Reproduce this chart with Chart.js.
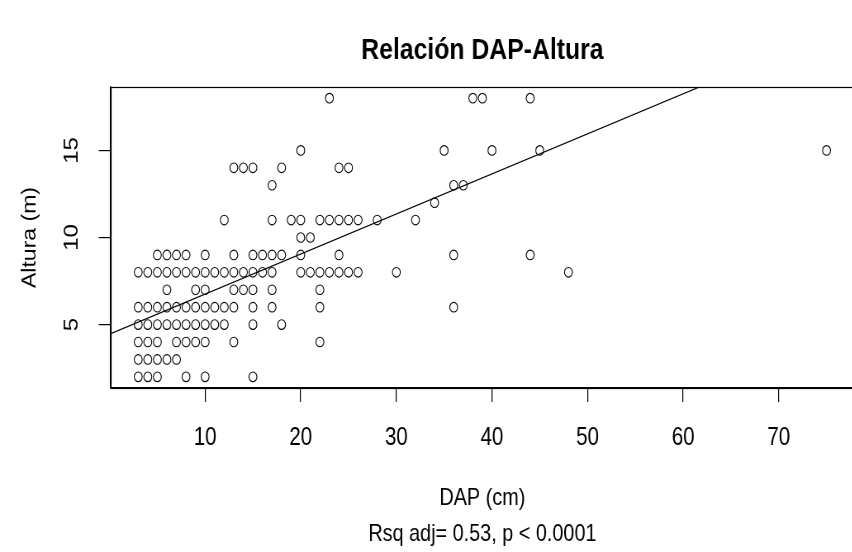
<!DOCTYPE html>
<html>
<head>
<meta charset="utf-8">
<script src="https://cdn.jsdelivr.net/npm/chart.js@4/dist/chart.umd.min.js"></script>
<style>
  html, body { margin: 0; padding: 0; background: #ffffff; overflow: hidden; width: 852px; height: 552px; }
  #wrap { width: 1040px; height: 552px; transform: scaleX(0.826); transform-origin: 0 0; }
</style>
</head>
<body>
<div id="wrap"><canvas id="c" width="1040" height="552"></canvas></div>
<script>
// ---- Data (DAP in cm, Altura in m) ----
const dapValues = [
  3,4,5,8,10,15,
  3,4,5,6,7,
  3,4,5,7,8,9,10,13,22,
  3,4,5,6,7,8,9,10,11,12,15,18,
  3,4,5,6,7,8,9,10,11,12,13,15,17,22,36,
  6,9,10,13,14,15,17,22,
  3,4,5,6,7,8,9,10,11,12,13,14,15,16,17,20,21,22,23,24,25,26,30,48,
  5,6,7,8,10,13,15,16,17,18,20,24,36,44,
  20,21,
  12,17,19,20,22,23,24,25,26,28,32,
  34,
  17,36,37,
  13,14,15,18,24,25,
  20,35,40,45,75,
  23,38,39,44
];
const alturaValues = [
  2,2,2,2,2,2,
  3,3,3,3,3,
  4,4,4,4,4,4,4,4,4,
  5,5,5,5,5,5,5,5,5,5,5,5,
  6,6,6,6,6,6,6,6,6,6,6,6,6,6,6,
  7,7,7,7,7,7,7,7,
  8,8,8,8,8,8,8,8,8,8,8,8,8,8,8,8,8,8,8,8,8,8,8,8,
  9,9,9,9,9,9,9,9,9,9,9,9,9,9,
  10,10,
  11,11,11,11,11,11,11,11,11,11,11,
  12,
  13,13,13,
  14,14,14,14,14,14,
  15,15,15,15,15,
  18,18,18,18
];
const xTickValues = [10, 20, 30, 40, 50, 60, 70];
const yTickValues = [5, 10, 15];
const xLimits = [0.12, 77.88];
const yLimits = [1.36, 18.64];
const fitIntercept = 4.45;
const fitSlope = 0.23;

const titleText = 'Relación DAP-Altura';
const xTitle = ['DAP (cm)', 'Rsq adj= 0.53, p < 0.0001'];
const yTitle = 'Altura (m)';

// ---- Build chart ----
const FONT = "'Liberation Sans', Arial, Helvetica, sans-serif";
const points = dapValues.map((x, i) => ({ x: x, y: alturaValues[i] }));
const fitLine = xLimits.map(x => ({ x: x, y: fitIntercept + fitSlope * x }));

const boxPlugin = {
  id: 'box',
  afterDatasetsDraw(chart) {
    const a = chart.chartArea, ctx = chart.ctx;
    ctx.save();
    ctx.strokeStyle = '#000';
    ctx.lineWidth = 1.2;
    ctx.strokeRect(Math.round(a.left) + 0.5, Math.round(a.top) + 0.5,
                   Math.round(a.right - a.left), Math.round(a.bottom - a.top));
    ctx.restore();
  }
};

new Chart(document.getElementById('c'), {
  type: 'scatter',
  data: {
    datasets: [
      {
        data: points,
        pointStyle: 'circle',
        pointRadius: 4.8,
        pointBorderWidth: 1.1,
        borderColor: '#000',
        pointBorderColor: '#000',
        backgroundColor: 'rgba(0,0,0,0)',
        pointBackgroundColor: 'rgba(0,0,0,0)',
        showLine: false
      },
      {
        type: 'line',
        data: fitLine,
        borderColor: '#000',
        borderWidth: 1.2,
        pointRadius: 0,
        fill: false,
        tension: 0
      }
    ]
  },
  options: {
    responsive: false,
    animation: false,
    devicePixelRatio: 1,
    events: [],
    layout: { padding: { left: 0, right: 6, top: 0, bottom: 0 } },
    plugins: {
      legend: { display: false },
      tooltip: { enabled: false },
      title: {
        display: true,
        text: titleText,
        color: '#000',
        fullSize: false,
        font: { family: FONT, size: 30, weight: 'bold', lineHeight: 1.2 },
        padding: { top: 33, bottom: 18 }
      }
    },
    scales: {
      x: {
        type: 'linear',
        position: 'bottom',
        min: xLimits[0],
        max: xLimits[1],
        afterBuildTicks: s => { s.ticks = xTickValues.map(v => ({ value: v })); },
        afterFit: s => { s.height = 164; },
        grid: { drawOnChartArea: false, drawTicks: true, tickLength: 14, color: '#000', lineWidth: 1.2 },
        border: { display: true, color: '#000', width: 1.2 },
        ticks: {
          color: '#000', autoSkip: false, maxRotation: 0, minRotation: 0, padding: 21,
          font: { family: FONT, size: 25, lineHeight: 1.2 },
          callback: v => String(v)
        },
        title: {
          display: true, text: xTitle, color: '#000',
          font: { family: FONT, size: 24, lineHeight: 1.5 },
          padding: { top: 0, bottom: 0 }
        }
      },
      y: {
        type: 'linear',
        position: 'left',
        min: yLimits[0],
        max: yLimits[1],
        afterBuildTicks: s => { s.ticks = yTickValues.map(v => ({ value: v })); },
        afterFit: s => { s.width = 134; },
        grid: { drawOnChartArea: false, drawTicks: true, tickLength: 14.5, color: '#000', lineWidth: 1.2 },
        border: { display: true, color: '#000', width: 1.2 },
        ticks: {
          color: '#000', autoSkip: false, minRotation: 90, maxRotation: 90,
          crossAlign: 'center', padding: 19,
          font: { family: FONT, size: 24, lineHeight: 1.2 },
          callback: v => String(v)
        },
        title: {
          display: true, text: yTitle, color: '#000',
          font: { family: FONT, size: 23, lineHeight: 1.2 },
          padding: { top: 22.5, bottom: 0 }
        }
      }
    }
  },
  plugins: [boxPlugin]
});
</script>
</body>
</html>
